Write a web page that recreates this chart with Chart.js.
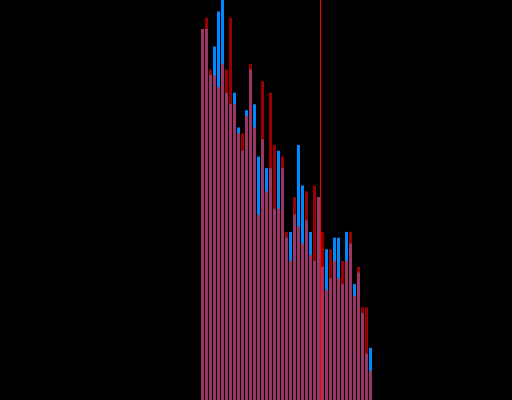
<!DOCTYPE html>
<html>
<head>
<meta charset="utf-8">
<script src="https://cdn.jsdelivr.net/npm/chart.js@4/dist/chart.umd.min.js"></script>
<style>
  html, body { margin: 0; padding: 0; background: #000; }
  #hist { display: block; }
</style>
</head>
<body>
<canvas id="hist" width="512" height="400"></canvas>
<script>
// bin index for each bar
const bins = [];
for (let i = 0; i < 43; i++) bins.push(i);

// counts, blue series (drawn underneath)
const blueCounts = [64, 64, 56, 61, 67, 69, 53, 51, 53, 47, 43, 50, 57, 51, 42, 45, 40, 40, 33, 43, 40,
  28, 29, 32, 44, 37, 31, 29, 24, 35, 23, 26, 21, 28, 28, 20, 29, 27, 20, 22, 15, 8, 9];

// red series (semi transparent, drawn on top)
const redCounts = [64, 66, 57, 56, 54, 58, 57, 66, 51, 46, 46, 49, 58, 47, 32, 55, 36, 53, 44, 33, 42,
  29, 24, 35, 30, 27, 36, 25, 37, 35, 29, 19, 26, 24, 21, 24, 24, 29, 18, 23, 16, 16, 5];

const markerBin = 29.5; // vertical red marker

const xMin = -50.625, xMax = 77.375;
const yMax = 69;

const markerLine = {
  id: 'markerLine',
  afterDatasetsDraw(chart) {
    const ctx = chart.ctx;
    const x = chart.scales.x.getPixelForValue(markerBin);
    ctx.save();
    ctx.strokeStyle = '#ff0000';
    ctx.lineWidth = 1;
    ctx.beginPath();
    ctx.moveTo(x, chart.chartArea.top);
    ctx.lineTo(x, chart.chartArea.bottom);
    ctx.stroke();
    ctx.restore();
  }
};

new Chart(document.getElementById('hist'), {
  type: 'bar',
  data: {
    datasets: [
      {
        label: 'red',
        data: bins.map((b, i) => ({ x: b, y: redCounts[i] })),
        backgroundColor: 'rgba(255,0,0,0.6)',
        order: 0
      },
      {
        label: 'blue',
        data: bins.map((b, i) => ({ x: b, y: blueCounts[i] })),
        backgroundColor: 'rgb(0,136,255)',
        order: 1
      }
    ]
  },
  options: {
    responsive: false,
    devicePixelRatio: 1,
    animation: false,
    layout: { padding: 0 },
    grouped: false,
    barPercentage: 0.75,
    categoryPercentage: 1,
    scales: {
      x: { type: 'linear', min: xMin, max: xMax, offset: false, display: false },
      y: { min: 0, max: yMax, display: false }
    },
    plugins: {
      legend: { display: false },
      tooltip: { enabled: false }
    }
  },
  plugins: [markerLine]
});
</script>
</body>
</html>
